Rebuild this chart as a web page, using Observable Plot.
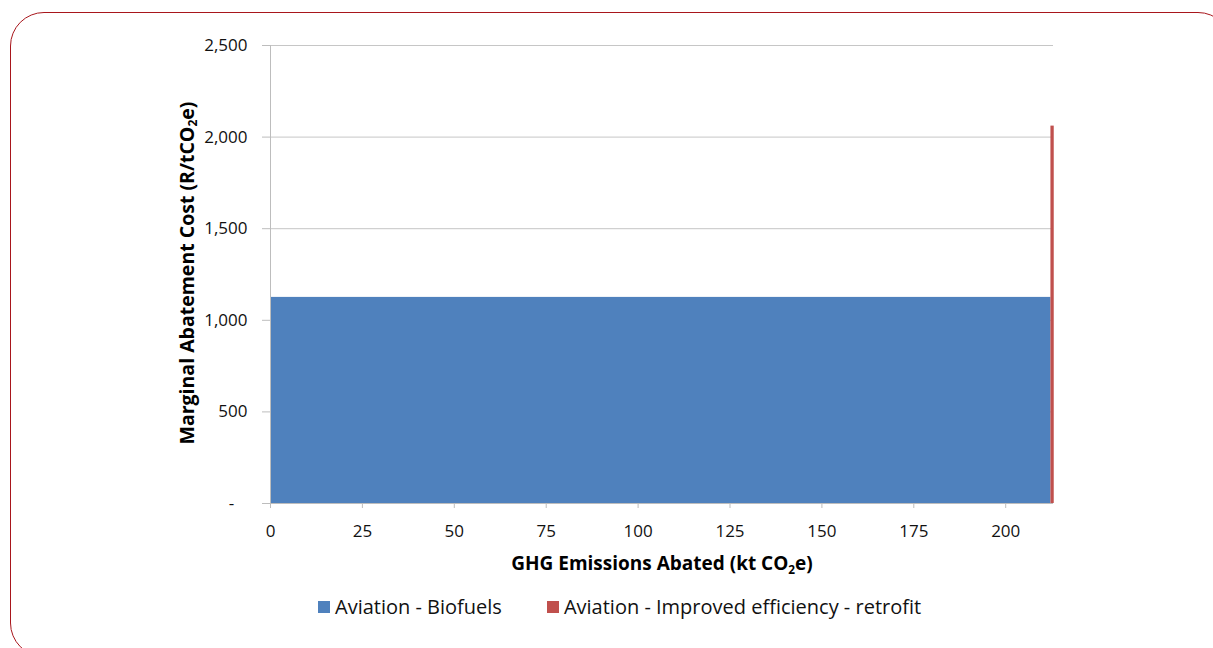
<!DOCTYPE html>
<html>
<head>
<meta charset="utf-8">
<script src="https://cdn.jsdelivr.net/npm/d3@7"></script>
<script src="https://cdn.jsdelivr.net/npm/@observablehq/plot@0.6"></script>
<style>
  html, body { margin: 0; padding: 0; background: #fff; }
  #wrap { position: relative; width: 1213px; height: 648px; overflow: hidden; font-family: "Open Sans", Lato, sans-serif; color: #000; }
  #frame { position: absolute; left: 10px; top: 12px; width: 1222px; height: 645px; border: 1.5px solid #a8161c; border-radius: 34px; box-sizing: border-box; }
  #chart { position: absolute; left: 0; top: 0; }
  .ytitle { position: absolute; left: 186px; top: 273px; transform: translate(-50%, -50%) rotate(-90deg); white-space: nowrap; font-weight: bold; font-size: 19.5px; }
  .xtitle { position: absolute; left: 662px; top: 563px; transform: translate(-50%, -50%); white-space: nowrap; font-weight: bold; font-size: 19px; }
  sub { font-size: 0.62em; vertical-align: -0.3em; line-height: 0; }
  #legend { position: absolute; left: 318px; top: 593px; display: flex; font-size: 20px; white-space: nowrap; color: #111; }
  .item { display: flex; align-items: center; margin-right: 45px; }
  .sw { width: 12px; height: 12px; margin-right: 5px; }
</style>
</head>
<body>
<div id="wrap">
  <div id="frame"></div>
  <div id="chart"></div>
  <div class="ytitle">Marginal Abatement Cost (R/tCO<sub>2</sub>e)</div>
  <div class="xtitle">GHG Emissions Abated (kt CO<sub>2</sub>e)</div>
  <div id="legend"></div>
</div>
<script>
// Data
const categories = ["Aviation - Biofuels", "Aviation - Improved efficiency - retrofit"];
const abated = [212.3, 0.9];          // kt CO2e (bar widths)
const costs = [1125, 2060];           // R/tCO2e (bar heights)
const colors = ["#4f81bd", "#c0504d"];
const yTicks = [0, 500, 1000, 1500, 2000, 2500];
const xTicks = [0, 25, 50, 75, 100, 125, 150, 175, 200];

// Build table with cumulative x positions
let acc = 0;
const rows = categories.map((c, i) => {
  const r = { category: c, x1: acc, x2: acc + abated[i], cost: costs[i] };
  acc += abated[i];
  return r;
});

const W = 1213, H = 580;
const chart = Plot.plot({
  width: W,
  height: H,
  marginLeft: 270,
  marginRight: 160,
  marginTop: 45,
  marginBottom: 77,
  style: { fontFamily: "'Open Sans', Lato, sans-serif", fontSize: "17px", color: "#000", background: "transparent" },
  x: { domain: [0, 213] },
  y: { domain: [0, 2500] },
  color: { domain: categories, range: colors },
  marks: [
    Plot.ruleY(yTicks.filter(d => d > 0), { stroke: "#c6c6c6", strokeWidth: 1 }),
    Plot.rect(rows, { x1: "x1", x2: "x2", y1: 0, y2: "cost", fill: "category" }),
    Plot.ruleX([0], { stroke: "#bdbdbd" }),
    Plot.ruleY([0], { stroke: "#bdbdbd" }),
    Plot.axisY({
      ticks: yTicks,
      tickSize: 8,
      tickPadding: 15,
      fontSize: 17,
      stroke: "#bdbdbd",
      tickFormat: d => d === 0 ? "-\u00a0\u00a0\u00a0" : d3.format(",")(d),
      label: null,
      fill: "#111"
    }),
    Plot.axisX({
      ticks: xTicks,
      tickSize: 5,
      tickPadding: 16,
      fontSize: 17,
      stroke: "#bdbdbd",
      tickFormat: d => String(d),
      label: null,
      fill: "#111"
    })
  ]
});
document.getElementById("chart").appendChild(chart);

const legend = document.getElementById("legend");
categories.forEach((c, i) => {
  const it = document.createElement("div");
  it.className = "item";
  it.innerHTML = `<div class="sw" style="background:${colors[i]}"></div><span>${c}</span>`;
  legend.appendChild(it);
});
</script>
</body>
</html>
